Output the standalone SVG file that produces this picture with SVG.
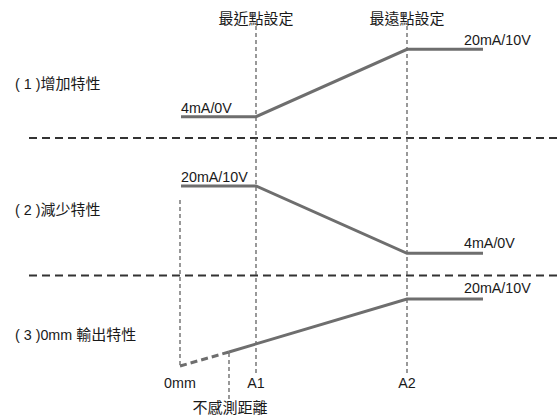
<svg xmlns="http://www.w3.org/2000/svg" width="557" height="416" viewBox="0 0 557 416">
<style>
text{font-family:"Liberation Sans","Noto Sans CJK TC",Arial,sans-serif;font-size:14.3px;fill:#1a1a1a}
.cjk{font-size:15px}
.m{text-anchor:middle}
.sep{stroke:#333;stroke-width:1.8;stroke-dasharray:8 5;fill:none}
.guide{stroke:#555;stroke-width:1.2;stroke-dasharray:4 3;fill:none}
.curve{stroke:#6e6e6e;stroke-width:3;fill:none;stroke-linejoin:miter}
.curve-d{stroke:#6e6e6e;stroke-width:3;fill:none;stroke-dasharray:7 4}
</style>
<rect width="557" height="416" fill="#fff"/>
<g id="connectors">
<line class="sep" x1="29" y1="138" x2="557" y2="138"/>
<line class="sep" x1="29" y1="275.5" x2="557" y2="275.5"/>
<line class="guide" x1="256" y1="26" x2="256" y2="374"/>
<line class="guide" x1="407" y1="26" x2="407" y2="373"/>
<line class="guide" x1="180" y1="200" x2="180" y2="367"/>
<line class="guide" x1="229" y1="353" x2="229" y2="399"/>
</g>
<g id="header">
<text class="cjk m" x="256" y="23.5">最近點設定</text>
<text class="cjk m" x="407" y="23.5">最遠點設定</text>
</g>
<g id="increase">
<text x="15" y="89">( 1 )<tspan class="cjk">增加特性</tspan></text>
<polyline class="curve" points="181,116.7 256,116.7 407,49.3 483,49.3"/>
<text x="181" y="112.5">4mA/0V</text>
<text x="464" y="45">20mA/10V</text>
</g>
<g id="decrease">
<text x="15" y="215">( 2 )<tspan class="cjk">減少特性</tspan></text>
<polyline class="curve" points="181,186 256,186 407,253.3 483,253.3"/>
<text x="181" y="182">20mA/10V</text>
<text x="464" y="248">4mA/0V</text>
</g>
<g id="zero">
<text x="15" y="340">( 3 )0mm <tspan class="cjk">輸出特性</tspan></text>
<line class="curve-d" x1="180" y1="366" x2="229" y2="352"/>
<polyline class="curve" points="229,352 407,299 483,299"/>
<text x="464" y="293">20mA/10V</text>
</g>
<g id="axis">
<text class="m" x="180" y="388">0mm</text>
<text class="m" x="256" y="388">A1</text>
<text class="m" x="407" y="388">A2</text>
<text class="cjk m" x="230" y="412.5">不感測距離</text>
</g>
</svg>
